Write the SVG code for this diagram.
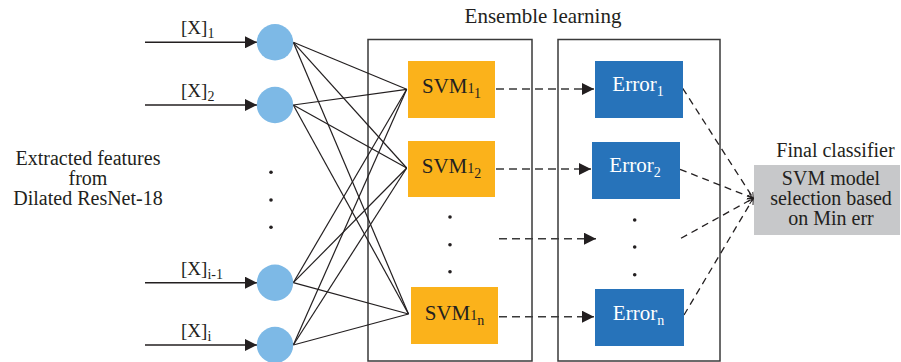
<svg xmlns="http://www.w3.org/2000/svg" width="901" height="362" viewBox="0 0 901 362">
<style>
  text { font-family: "Liberation Serif", "Times New Roman", serif; fill: #231f20; }
  .t { font-size: 20px; }
  .big { font-size: 21px; }
  .lbl { font-size: 19px; }
  .sub { font-size: 14px; }
  .w { fill: #ffffff; }
  .frame { fill: none; stroke: #3a3a3a; stroke-width: 1.5; }
  .svm { fill: #fbb21b; }
  .err { fill: #2773ba; }
  .in { fill: #7db9e6; }
  .fan { stroke: #231f20; stroke-width: 1.2; fill: none; }
  .arr { stroke: #231f20; stroke-width: 1.6; fill: none; }
  .dash { stroke: #3a3a3a; stroke-width: 1.6; stroke-dasharray: 8 5; fill: none; }
  .dash2 { stroke: #231f20; stroke-width: 1.3; stroke-dasharray: 7 5; fill: none; }
  .dot { fill: #231f20; }
</style>
<defs>
  <marker id="tri" markerUnits="userSpaceOnUse" markerWidth="13" markerHeight="12" refX="12" refY="6" orient="auto">
    <path d="M0,0 L12,6 L0,12 z" fill="#231f20"/>
  </marker>
  <marker id="chev" markerUnits="userSpaceOnUse" markerWidth="8" markerHeight="8" refX="6" refY="4" orient="auto">
    <path d="M0,0.8 L6,4 L0,7.2" fill="none" stroke="#231f20" stroke-width="1"/>
  </marker>
</defs>

<g id="frames">
  <rect id="ensemble-box" class="frame" x="368" y="39.5" width="164" height="321.5"/>
  <rect id="error-box" class="frame" x="558" y="39.5" width="162" height="321.5"/>
  <text class="big" x="543" y="23" text-anchor="middle">Ensemble learning</text>
</g>

<g id="connectors">
  <line class="arr" x1="145" y1="42.3" x2="257" y2="42.3" marker-end="url(#tri)"/>
  <line class="arr" x1="145" y1="105" x2="257" y2="105" marker-end="url(#tri)"/>
  <line class="arr" x1="145" y1="282.7" x2="257" y2="282.7" marker-end="url(#tri)"/>
  <line class="arr" x1="145" y1="345" x2="257" y2="345" marker-end="url(#tri)"/>

  <line class="fan" x1="293.3" y1="42.3" x2="406.7" y2="89.3"/>
  <line class="fan" x1="293.3" y1="42.3" x2="406.7" y2="168"/>
  <line class="fan" x1="293.3" y1="42.3" x2="408.5" y2="314"/>
  <line class="fan" x1="293.3" y1="105" x2="406.7" y2="89.3"/>
  <line class="fan" x1="293.3" y1="105" x2="406.7" y2="168"/>
  <line class="fan" x1="293.3" y1="105" x2="408.5" y2="314"/>
  <line class="fan" x1="293.3" y1="282.7" x2="406.7" y2="89.3"/>
  <line class="fan" x1="293.3" y1="282.7" x2="406.7" y2="168"/>
  <line class="fan" x1="293.3" y1="282.7" x2="408.5" y2="314"/>
  <line class="fan" x1="293.3" y1="345" x2="406.7" y2="89.3"/>
  <line class="fan" x1="293.3" y1="345" x2="406.7" y2="168"/>
  <line class="fan" x1="293.3" y1="345" x2="408.5" y2="314"/>

  <line class="dash" x1="496" y1="89" x2="594" y2="89" marker-end="url(#tri)"/>
  <line class="dash" x1="496" y1="169" x2="591" y2="169" marker-end="url(#tri)"/>
  <line class="dash" x1="499" y1="238.7" x2="596" y2="238.7" marker-end="url(#tri)"/>
  <line class="dash" x1="499" y1="316.7" x2="594" y2="316.7" marker-end="url(#tri)"/>

  <line class="dash2" x1="682.7" y1="88.3" x2="753.3" y2="198.3" marker-end="url(#chev)"/>
  <line class="dash2" x1="680" y1="169.3" x2="753.3" y2="198.3" marker-end="url(#chev)"/>
  <line class="dash2" x1="681" y1="238.3" x2="753.3" y2="198.3" marker-end="url(#chev)"/>
  <line class="dash2" x1="684" y1="315" x2="753.3" y2="198.3" marker-end="url(#chev)"/>
</g>

<g id="input-label">
  <text class="t" x="88" y="164.5" text-anchor="middle">Extracted features</text>
  <text class="t" x="88" y="184.5" text-anchor="middle">from</text>
  <text class="t" x="88" y="204.5" text-anchor="middle">Dilated ResNet-18</text>
</g>

<g id="x1">
  <circle class="in" cx="275" cy="42.3" r="18.2"/>
  <text class="lbl" x="181" y="34">[X]<tspan class="sub" dy="4">1</tspan></text>
</g>
<g id="x2">
  <circle class="in" cx="275" cy="105" r="18.2"/>
  <text class="lbl" x="181" y="96.5">[X]<tspan class="sub" dy="4">2</tspan></text>
</g>
<g id="input-dots">
  <circle class="dot" cx="271" cy="172.3" r="1.8"/>
  <circle class="dot" cx="271" cy="200" r="1.8"/>
  <circle class="dot" cx="271" cy="227.3" r="1.8"/>
</g>
<g id="xi-1">
  <circle class="in" cx="275" cy="282.7" r="18.2"/>
  <text class="lbl" x="181" y="275">[X]<tspan class="sub" dy="4">i-1</tspan></text>
</g>
<g id="xi">
  <circle class="in" cx="275" cy="345" r="18.2"/>
  <text class="lbl" x="181" y="337">[X]<tspan class="sub" dy="4">i</tspan></text>
</g>

<g id="svm1">
  <rect class="svm" x="408" y="61" width="87" height="57"/>
  <text class="big" x="451.5" y="93" text-anchor="middle">SVM<tspan class="sub">1</tspan><tspan class="sub" dy="5">1</tspan></text>
</g>
<g id="svm2">
  <rect class="svm" x="408" y="141" width="87" height="56"/>
  <text class="big" x="451.5" y="173" text-anchor="middle">SVM<tspan class="sub">1</tspan><tspan class="sub" dy="5">2</tspan></text>
</g>
<g id="svm-dots">
  <circle class="dot" cx="450" cy="217" r="1.8"/>
  <circle class="dot" cx="450" cy="244.7" r="1.8"/>
  <circle class="dot" cx="450" cy="271.7" r="1.8"/>
</g>
<g id="svmn">
  <rect class="svm" x="411" y="287" width="87" height="57"/>
  <text class="big" x="454.5" y="319.5" text-anchor="middle">SVM<tspan class="sub">1</tspan><tspan class="sub" dy="5">n</tspan></text>
</g>

<g id="error1">
  <rect class="err" x="595" y="61" width="88" height="57"/>
  <text class="big w" x="638" y="90.5" text-anchor="middle">Error<tspan class="sub w" dy="5">1</tspan></text>
</g>
<g id="error2">
  <rect class="err" x="592" y="142" width="88" height="57"/>
  <text class="big w" x="635" y="172" text-anchor="middle">Error<tspan class="sub w" dy="5">2</tspan></text>
</g>
<g id="error-dots">
  <circle class="dot" cx="634.7" cy="220" r="1.8"/>
  <circle class="dot" cx="634.7" cy="247" r="1.8"/>
  <circle class="dot" cx="634.7" cy="274.7" r="1.8"/>
</g>
<g id="errorn">
  <rect class="err" x="595" y="289" width="89" height="57"/>
  <text class="big w" x="638.5" y="319.5" text-anchor="middle">Error<tspan class="sub w" dy="5">n</tspan></text>
</g>

<g id="final-classifier">
  <text class="t" x="835.5" y="157" text-anchor="middle">Final classifier</text>
  <rect x="754" y="165" width="146" height="70" fill="#c7c8ca"/>
  <text class="t" x="831" y="184.5" text-anchor="middle">SVM model</text>
  <text class="t" x="831" y="204.5" text-anchor="middle">selection based</text>
  <text class="t" x="831" y="224.5" text-anchor="middle">on Min err</text>
</g>
</svg>
